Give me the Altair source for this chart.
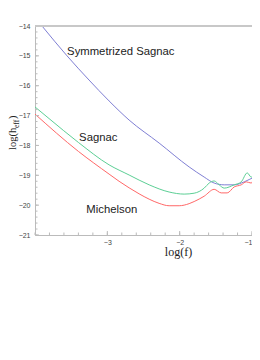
import altair as alt
import pandas as pd

# Symmetrized Sagnac
sym_logf = [-3.903, -3.557, -3.253, -2.976, -2.699, -2.284, -1.869, -1.661, -1.523, -1.384, -1.246, -1.108, -0.969, -0.900]
sym_logh = [-14.00, -15.00, -15.81, -16.51, -17.15, -17.92, -18.72, -19.06, -19.26, -19.32, -19.32, -19.22, -19.06, -18.99]

# Sagnac
sag_logf = [-4.000, -3.806, -3.40, -2.976, -2.699, -2.422, -2.146, -1.938, -1.800, -1.661, -1.592, -1.523, -1.454, -1.384, -1.246, -1.149, -1.066, -1.011, -0.941, -0.900]
sag_logh = [-16.71, -17.10, -17.90, -18.65, -18.99, -19.32, -19.56, -19.63, -19.60, -19.43, -19.26, -19.19, -19.32, -19.43, -19.32, -19.22, -18.92, -19.06, -18.99, -18.99]

# Michelson
mic_logf = [-4.000, -3.40, -2.976, -2.838, -2.699, -2.561, -2.422, -2.284, -2.146, -2.007, -1.869, -1.800, -1.661, -1.523, -1.426, -1.343, -1.246, -1.149, -1.080, -1.011, -0.969, -0.900]
mic_logh = [-16.95, -18.20, -18.96, -19.20, -19.42, -19.62, -19.80, -19.94, -20.02, -20.02, -19.95, -19.88, -19.70, -19.47, -19.59, -19.59, -19.39, -19.32, -19.22, -19.26, -19.09, -18.99]

series_names = ["Symmetrized Sagnac", "Sagnac", "Michelson"]
series_colors = ["#7f7fd4", "#5ccf95", "#ff6868"]

label_text = ["Symmetrized Sagnac", "Sagnac", "Michelson"]
label_logf = [-3.556, -3.39, -3.29]
label_logh = [-14.87, -17.75, -20.16]

x_major = [-3, -2, -1]
y_major = [-21, -20, -19, -18, -17, -16, -15, -14]
x_minor = [round(-4 + 0.2 * i, 1) for i in range(16)]
y_minor = [round(-21 + 0.2 * i, 1) for i in range(36)]

rows = []
for name, xs, ys in zip(series_names, [sym_logf, sag_logf, mic_logf], [sym_logh, sag_logh, mic_logh]):
    for i, (xv, yv) in enumerate(zip(xs, ys)):
        rows.append({"series": name, "logf": xv, "logh": yv, "order": i})
df = pd.DataFrame(rows)
labels_df = pd.DataFrame({"text": label_text, "logf": label_logf, "logh": label_logh})

W, H = 217, 209

xscale = alt.Scale(domain=[-4, -1], nice=False, zero=False)
yscale = alt.Scale(domain=[-21, -14], nice=False, zero=False)

x_axis = alt.Axis(
    values=x_major,
    format="d",
    ticks=False,
    title="log(f)",
    titleFont="Liberation Serif",
    titleFontSize=12,
    titleFontWeight="normal",
    titleColor="#222",
    titleX=143,
    titleAlign="center",
    titlePadding=1,
    labelFont="Liberation Sans",
    labelFontSize=7,
    labelColor="#444",
    labelPadding=3,
    domainColor="#bbbbbb",
    grid=False,
    labelFlush=True,
    labelOverlap=False,
)
y_axis = alt.Axis(
    values=y_major,
    format="d",
    ticks=False,
    title=None,
    labelFont="Liberation Sans",
    labelFontSize=7,
    labelColor="#444",
    labelPadding=5,
    domainColor="#bbbbbb",
    grid=False,
    labelFlush=False,
    labelOverlap=False,
)

def X(field):
    return alt.X(field, scale=xscale, axis=x_axis, title="log(f)")

def Y(field):
    return alt.Y(field, scale=yscale, axis=y_axis, title=None)

lines = alt.Chart(df).mark_line(strokeWidth=1, clip=True, interpolate="monotone").encode(
    x=X("logf:Q"),
    y=Y("logh:Q"),
    color=alt.Color("series:N", scale=alt.Scale(domain=series_names, range=series_colors), legend=None),
    order="order:Q",
    detail="series:N",
)

# inward tick marks
xmin_t = alt.Chart(pd.DataFrame({"logf": x_minor})).mark_rule(color="#bbbbbb", strokeWidth=1).encode(
    x=X("logf:Q"), y=alt.value(H), y2=alt.value(H - 2.5))
xmaj_t = alt.Chart(pd.DataFrame({"logf": x_major})).mark_rule(color="#bbbbbb", strokeWidth=1).encode(
    x=X("logf:Q"), y=alt.value(H), y2=alt.value(H - 4))
ymin_t = alt.Chart(pd.DataFrame({"logh": y_minor})).mark_rule(color="#bbbbbb", strokeWidth=1).encode(
    y=Y("logh:Q"), x=alt.value(0), x2=alt.value(2.5))
ymaj_t = alt.Chart(pd.DataFrame({"logh": y_major})).mark_rule(color="#bbbbbb", strokeWidth=1).encode(
    y=Y("logh:Q"), x=alt.value(0), x2=alt.value(4))

top_line = alt.Chart(pd.DataFrame({"t": [0]})).mark_rule(color="#c8c8c8", strokeWidth=2).encode(
    x=alt.value(0), x2=alt.value(W), y=alt.value(0))

texts = alt.Chart(labels_df).mark_text(
    align="left", baseline="middle", font="Liberation Sans", fontSize=11.3, color="#222"
).encode(
    x=X("logf:Q"),
    y=Y("logh:Q"),
    text="text:N",
)

def ytitle_part(txt, xpos, ypos, size):
    return alt.Chart(pd.DataFrame({"t": [txt]})).mark_text(
        angle=270, align="left", baseline="alphabetic", font="Liberation Serif",
        fontSize=size, color="#222"
    ).encode(x=alt.value(xpos), y=alt.value(ypos), text="t:N")

yt1 = ytitle_part("log(h", -19, 124, 10.5)
yt2 = ytitle_part("eff", -16.5, 102, 7.5)
yt3 = ytitle_part(")", -19, 93, 10.5)

chart = alt.layer(lines, xmin_t, xmaj_t, ymin_t, ymaj_t, top_line, texts, yt1, yt2, yt3).properties(
    width=W, height=H,
    autosize=alt.AutoSizeParams(type="none"),
    padding={"left": 27, "top": 18, "right": 0, "bottom": 40},
).configure_view(stroke=None).configure_axis(labelOverlap=False)

chart.save("out.html", embed_options={"renderer": "svg", "actions": False})
